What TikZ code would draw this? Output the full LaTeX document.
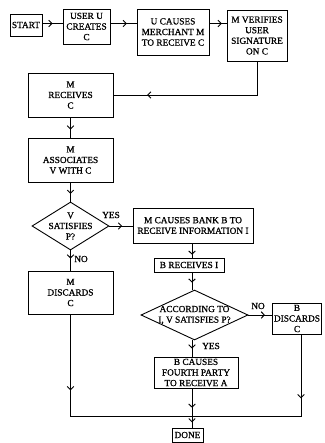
\documentclass[tikz,border=0pt]{standalone}
\usepackage{fontspec}
\setmainfont{Liberation Serif}
\newfontfamily\scanfont[FakeBold=0.9]{Liberation Serif}
\usetikzlibrary{shapes.geometric,decorations.markings,arrows.meta}
\begin{document}
\begin{tikzpicture}[x=1pt,y=-1pt,
  font=\scanfont\fontsize{9.3}{10.6}\selectfont,
  every node/.style={inner sep=0pt, align=center},
  box/.style n args={2}{draw, line width=0.9pt, minimum width=#1, minimum height=#2},
  dia/.style n args={2}{draw, diamond, line width=0.9pt, minimum width=#1, minimum height=#2, inner sep=0pt},
  conn/.style={line width=0.9pt},
  midarrow/.style={postaction={decorate}, decoration={markings, mark=at position #1 with {\arrow{Straight Barb[length=3.2pt,width=6.5pt]}}}}
]
\useasboundingbox (0,0) rectangle (324,443);
% boxes
\node[box={32pt}{22pt}] (start) at (26,25) {START};
\node[box={47pt}{35pt}] (create) at (86.5,26.5) {USER U\\CREATES\\C};
\node[box={72pt}{46pt}] (causes) at (173,32) {U CAUSES\\MERCHANT M\\TO RECEIVE C};
\node[box={60pt}{51pt}] (verify) at (257,35.5) {M VERIFIES\\USER\\SIGNATURE\\ON C};
\node[box={85pt}{44pt}] (receives) at (70.5,95) {M\\RECEIVES\\C};
\node[box={85pt}{44pt}] (assoc) at (70.5,160) {M\\ASSOCIATES\\V WITH C};
\node[dia={77pt}{48pt}, label=center:{V\\SATISFIES\\P?}] (dec1) at (70.5,226) {};
\node[box={120pt}{35pt}] (bank) at (193,225.5) {M CAUSES BANK B TO\\RECEIVE INFORMATION I};
\node[box={70pt}{14pt}] (brecv) at (189,265) {B RECEIVES I};
\node[dia={107pt}{50pt}, label=center:{ACCORDING TO\\I, V SATISFIES P?}] (dec2) at (194.5,315) {};
\node[box={85pt}{43pt}] (mdisc) at (70.5,292.5) {M\\DISCARDS\\C};
\node[box={49pt}{31pt}] (bdisc) at (297,318.5) {B\\DISCARDS\\C};
\node[box={84pt}{31pt}] (fourth) at (196,372.5) {B CAUSES\\FOURTH PARTY\\TO RECEIVE A};
\node[box={31pt}{14pt}] (done) at (187.5,435) {DONE};
% labels
\node (yes1) at (111,215) {YES};
\node (no1) at (81,259) {NO};
\node (no2) at (258,306) {NO};
\node (yes2) at (211,346) {YES};
% helper coordinates
\coordinate (row) at (0,23.5);
\coordinate (col) at (192,0);
\coordinate (rcol) at (301,0);
\coordinate (merge) at (192,416);
% connectors
\draw[conn, midarrow=0.5] (start.east |- row) -- (create.west |- row);
\draw[conn, midarrow=0.63] (create.east |- row) -- (causes.west |- row);
\draw[conn, midarrow=0.72] (causes.east |- row) -- (verify.west |- row);
\draw[conn, midarrow=0.81] (verify.south) |- (receives.east);
\draw[conn, midarrow=0.6] (receives) -- (assoc);
\draw[conn, midarrow=0.6] (assoc) -- (dec1);
\draw[conn, midarrow=0.55] (dec1.east) -- (dec1.east -| bank.west);
\draw[conn, midarrow=0.4] (dec1) -- (mdisc);
\draw[conn, midarrow=0.8] (bank.south -| col) -- (brecv.north -| col);
\draw[conn, midarrow=0.6] (brecv.south -| col) -- (dec2.north -| col);
\draw[conn, midarrow=0.7] (dec2.east) -- (dec2.east -| bdisc.west);
\draw[conn, midarrow=0.5] (dec2.south -| col) -- (fourth.north -| col);
\draw[conn, midarrow=0.7] (fourth.south -| col) -- (merge);
\draw[conn, midarrow=0.55] (merge) -- (done.north -| col);
\draw[conn, midarrow=0.34] (mdisc.south) |- (merge);
\draw[conn, midarrow=0.335] (bdisc.south -| rcol) |- (merge);
\end{tikzpicture}
\end{document}
